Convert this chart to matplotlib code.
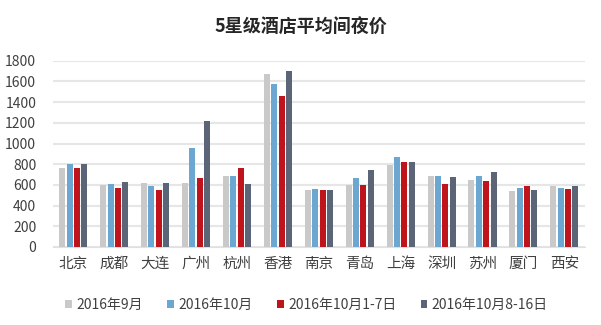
import numpy as np
import matplotlib.pyplot as plt

plt.rcParams['font.family'] = ['Noto Sans CJK SC', 'DejaVu Sans']

cities = ['北京', '成都', '大连', '广州', '杭州', '香港', '南京', '青岛', '上海', '深圳', '苏州', '厦门', '西安']
sep = [760, 600, 620, 620, 690, 1670, 555, 595, 795, 690, 650, 545, 590]
octb = [800, 605, 585, 960, 690, 1580, 565, 665, 870, 690, 690, 575, 575]
oct1_7 = [760, 575, 555, 665, 760, 1455, 555, 595, 825, 610, 640, 590, 565]
oct8_16 = [805, 630, 620, 1220, 610, 1700, 555, 745, 825, 680, 725, 555, 590]

series = [
    ('2016年9月', sep, '#c9c9c9'),
    ('2016年10月', octb, '#6ba7d0'),
    ('2016年10月1-7日', oct1_7, '#c0141c'),
    ('2016年10月8-16日', oct8_16, '#5b6577'),
]

fig = plt.figure(figsize=(6.01, 3.25), dpi=100)
ax = fig.add_axes([0.088, 0.24, 0.885, 0.573])

x = np.arange(len(cities))
pitch = 0.18
width = 0.147
for i, (name, vals, col) in enumerate(series):
    ax.bar(x + (i - 1.5) * pitch, vals, width, color=col, label=name, zorder=3)

ax.set_xlim(-0.5, len(cities) - 0.5)
ax.set_ylim(0, 1800)
ax.set_yticks(range(0, 1801, 200))
ax.set_xticks(x)
ax.set_xticklabels(cities, fontsize=10.5, color='#404040')
ax.tick_params(axis='y', labelsize=10, colors='#404040', length=0, pad=12)
ax.tick_params(axis='x', length=0, pad=7)
ax.grid(axis='y', color='#e6e6e6', linewidth=1.5, zorder=0)
for s in ['top', 'right', 'left']:
    ax.spines[s].set_visible(False)
ax.spines['bottom'].set_color('#e0e0e0')

fig.suptitle('5星级酒店平均间夜价', x=0.5, y=0.945, fontsize=13, fontweight='bold', color='#262626')

handles, labels = ax.get_legend_handles_labels()
fig.legend(handles, labels, loc='center', bbox_to_anchor=(0.51, 0.063), ncol=4, frameon=False,
           fontsize=10, handlelength=0.5, handleheight=0.5, handletextpad=0.3, columnspacing=1.75,
           labelcolor='#404040')

fig.savefig('out.png', dpi=100, facecolor='white')
